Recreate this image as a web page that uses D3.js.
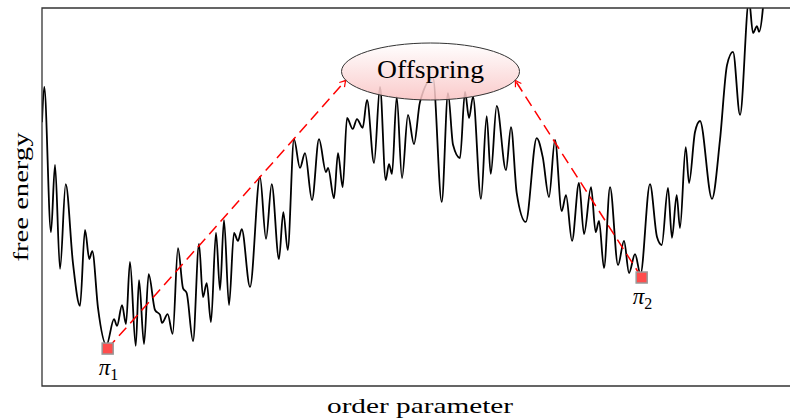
<!DOCTYPE html>
<meta charset="utf-8">
<style>
body { margin: 0; overflow: hidden; background: #fff; }
.curve { fill: none; stroke: #000; stroke-width: 1.8px; stroke-linejoin: round; }
.frame { fill: none; stroke: #333; stroke-width: 1.3px; }
.label { font-family: "Liberation Serif", serif; fill: #000; }
.jump { fill: none; stroke: #ff0000; stroke-width: 1.5px; stroke-dasharray: 11,6; }
</style>
<svg width="790" height="418"></svg>
<script src="https://d3js.org/d3.v7.min.js"></script>
<script>

// free energy landscape (both axes in 0..100 units)
var orderParam = [0, 0.3, 1.2, 1.74, 2.41, 3.17, 4.14, 5.08, 5.75, 6.32, 6.72, 7.49, 8.62, 9.63, 10.03,
  10.7, 11.23, 11.76, 12.53, 12.97, 13.64, 14.26, 15.11, 15.78, 16.04, 16.8, 17.47, 18.18, 18.85,
  19.34, 20.19, 20.99, 21.52, 22.02, 22.59, 23.26, 23.8, 24.33, 25.0, 25.67, 26.2, 26.7, 27.81,
  29.14, 29.95, 30.71, 31.68, 32.26, 32.85, 33.69, 34.49, 35.16, 36.1, 37.03, 37.97, 38.24, 39.04,
  39.57, 40.2, 40.78, 41.54, 42.11, 42.87, 43.45, 44.39, 45.19, 45.95, 46.39, 46.79, 47.42, 48.13,
  48.93, 49.73, 50.53, 52.27, 53.44, 54.28, 54.95, 55.88, 56.55, 57.09, 57.62, 58.69, 59.45, 59.99,
  60.79, 62.03, 62.7, 63.46, 64.67, 66.14, 66.94, 67.78, 68.58, 69.48, 70.05, 70.86, 71.79, 72.46,
  73.4, 74.02, 74.47, 75.13, 75.94, 77.01, 77.81, 78.48, 79.28, 80.01, 81.28, 82.22, 82.85, 83.69,
  84.22, 84.85, 85.29, 86.06, 86.5, 87.3, 87.97, 89.57, 90.64, 91.58, 92.38, 93.32, 94.52, 95.05,
  95.59, 95.86, 96.79];
var freeEnergy = [69.8, 79.1, 40.7, 58.5, 31.0, 53.4, 32.5, 21.2, 41.3, 33.6, 35.7, 20.6, 10.8, 17.7, 15.9,
  21.4, 16.4, 32.8, 10.6, 28.0, 11.1, 29.6, 20.1, 18.8, 16.7, 19.0, 13.8, 36.5, 25.9,
  24.6, 11.9, 37.6, 23.5, 27.2, 16.9, 40.5, 25.4, 43.9, 21.4, 40.5, 38.4, 41.5, 26.2,
  55.3, 38.9, 53.4, 33.6, 46.0, 36.0, 65.3, 57.7, 61.6, 49.2, 65.3, 56.6, 57.7, 49.7,
  61.6, 52.6, 70.9, 68.0, 70.6, 68.3, 75.7, 59.0, 79.1, 54.5, 58.7, 56.1, 76.5, 55.0,
  71.7, 64.0, 75.1, 81.5, 48.7, 77.5, 63.8, 60.3, 77.8, 70.9, 76.5, 49.5, 71.4, 56.1,
  74.1, 57.1, 68.5, 51.1, 43.4, 65.6, 60.6, 50.0, 65.1, 46.3, 50.5, 38.4, 53.7, 40.2,
  52.6, 40.7, 43.7, 31.2, 52.6, 32.0, 38.4, 29.9, 34.9, 29.6, 53.4, 39.4, 37.3, 52.4,
  39.2, 50.5, 41.8, 63.2, 53.7, 67.2, 70.1, 49.5, 65.1, 84.9, 88.4, 71.7, 102.1, 93.4,
  95.2, 93.7, 110.1];

// the two parents and the offspring
var parentNames = ["1", "2"];
var parentX = [8.78, 80.17];
var parentY = [9.9, 28.7];
var childName = "Offspring";
var childX = 51.94;
var childY = 83.2;

var xLabel = "order parameter";
var yLabel = "free energy";

var svg = d3.select("svg"),
    margin = {top: 8, right: 0, bottom: 32, left: 42},
    width = +svg.attr("width") - margin.left - margin.right,
    height = +svg.attr("height") - margin.top - margin.bottom;

var defs = svg.append("defs");
defs.append("clipPath").attr("id", "plot-clip")
  .append("rect").attr("x", 0).attr("y", 0).attr("width", width).attr("height", height);

var grad = defs.append("linearGradient").attr("id", "pinkish")
  .attr("x1", 0).attr("y1", 0).attr("x2", 0).attr("y2", 1);
grad.append("stop").attr("offset", "0%").attr("stop-color", "#ffffff");
grad.append("stop").attr("offset", "100%").attr("stop-color", "#f9c2c2");

defs.append("marker").attr("id", "tip")
  .attr("viewBox", "-8 -5 10 10")
  .attr("refX", 0).attr("refY", 0)
  .attr("markerWidth", 10).attr("markerHeight", 10)
  .attr("markerUnits", "userSpaceOnUse")
  .attr("orient", "auto")
  .append("path")
  .attr("d", "M-6,-3.5 Q-2.5,-1 0,0 Q-2.5,1 -6,3.5")
  .attr("fill", "none").attr("stroke", "#ff0000").attr("stroke-width", 1.2);

var g = svg.append("g").attr("transform", "translate(" + margin.left + "," + margin.top + ")");

var x = d3.scaleLinear().domain([0, 100]).range([0, width]);
var y = d3.scaleLinear().domain([0, 100]).range([height, 0]);

var line = d3.line()
  .x(function(d) { return x(d[0]); })
  .y(function(d) { return y(d[1]); })
  .curve(d3.curveMonotoneX);

var pts = orderParam.map(function(v, i) { return [v, freeEnergy[i]]; });

g.append("path")
  .attr("class", "curve")
  .attr("clip-path", "url(#plot-clip)")
  .attr("d", line(pts));

// frame: left, top and bottom (right side runs off the page)
g.append("path")
  .attr("class", "frame")
  .attr("d", "M" + (width + 5) + ",0H0V" + height + "H" + (width + 5));

// offspring bubble
var rx = 89, ry = 28.5;
var cx = x(childX), cy = y(childY);
var hit = 18 * Math.PI / 180;
var ends = [[cx - rx * Math.cos(hit), cy + ry * Math.sin(hit)],
            [cx + rx * Math.cos(hit), cy + ry * Math.sin(hit)]];

parentX.forEach(function(px, i) {
  g.append("line")
    .attr("class", "jump")
    .attr("x1", x(px)).attr("y1", y(parentY[i]))
    .attr("x2", ends[i][0]).attr("y2", ends[i][1])
    .attr("marker-end", "url(#tip)");
});

g.append("ellipse")
  .attr("cx", cx).attr("cy", cy).attr("rx", rx).attr("ry", ry)
  .attr("fill", "url(#pinkish)")
  .attr("fill-opacity", 0.86)
  .attr("stroke", "#333").attr("stroke-width", 1);

g.append("text")
  .attr("class", "label")
  .attr("x", cx).attr("y", cy + 6)
  .attr("text-anchor", "middle")
  .attr("font-size", 25)
  .attr("fill", "#4a4a4a")
  .attr("textLength", 107).attr("lengthAdjust", "spacingAndGlyphs")
  .text(childName);

// parents
parentX.forEach(function(px, i) {
  g.append("rect")
    .attr("x", x(px) - 5.5).attr("y", y(parentY[i]) - 5.5)
    .attr("width", 11).attr("height", 11)
    .attr("fill", "#ff4d4d").attr("stroke", "#999").attr("stroke-width", 1.5);

  var t = g.append("text")
    .attr("class", "label")
    .attr("x", x(px) - 9).attr("y", y(parentY[i]) + 26)
    .attr("font-size", 23);
  t.append("tspan").style("font-style", "italic").text("\u03c0");
  t.append("tspan").attr("dy", 5).attr("font-size", 16).text(parentNames[i]);
});

// axis titles
svg.append("text")
  .attr("class", "label")
  .attr("x", 420).attr("y", 413)
  .attr("text-anchor", "middle")
  .attr("font-size", 21)
  .attr("textLength", 186).attr("lengthAdjust", "spacingAndGlyphs")
  .text(xLabel);

svg.append("text")
  .attr("class", "label")
  .attr("transform", "translate(28,197) rotate(-90)")
  .attr("text-anchor", "middle")
  .attr("font-size", 21)
  .attr("textLength", 129).attr("lengthAdjust", "spacingAndGlyphs")
  .text(yLabel);

</script>
